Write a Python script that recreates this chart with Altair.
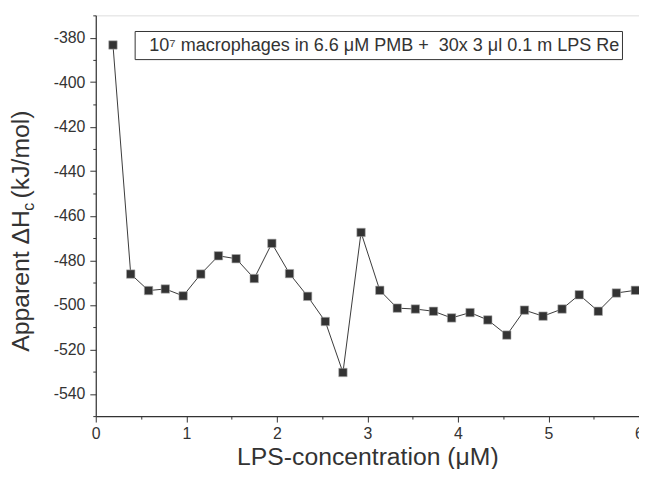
import altair as alt
import pandas as pd

# LPS concentration (µM) and apparent enthalpy (kJ/mol)
conc = [0.19, 0.386, 0.583, 0.768, 0.965, 1.16, 1.355, 1.55, 1.75, 1.945,
        2.14, 2.34, 2.535, 2.73, 2.93, 3.137, 3.33, 3.53, 3.73, 3.93,
        4.134, 4.33, 4.54, 4.735, 4.94, 5.15, 5.34, 5.55, 5.75, 5.96]
dH = [-383.3, -486.2, -493.6, -492.9, -496.0, -486.2, -478.0, -479.3, -488.2, -472.4,
      -486.0, -496.2, -507.5, -530.4, -467.5, -493.5, -501.5, -501.9, -502.9, -505.9,
      -503.5, -506.8, -513.6, -502.4, -505.1, -501.9, -495.5, -502.9, -494.7, -493.5]

x_ticks = [0, 0.5, 1, 1.5, 2, 2.5, 3, 3.5, 4, 4.5, 5, 5.5, 6]
y_ticks = [-550, -540, -530, -520, -510, -500, -490, -480, -470, -460,
           -450, -440, -430, -420, -410, -400, -390, -380, -370]

legend_text = ["10\u2077 macrophages in 6.6 \u03bcM PMB +\u00a0 30x 3 \u03bcl 0.1 m LPS Re"]
x_title = "LPS-concentration (\u03bcM)"
y_title_main = ["Apparent \u0394H"]
y_title_sub = ["c"]
y_title_unit = ["(kJ/mol)"]

FONT = "Liberation Sans"
INK = "#333333"
W, H = 549, 405

df = pd.DataFrame({"conc": conc, "dH": dH})

xscale = alt.Scale(domain=[0, 6], nice=False, zero=False)
yscale = alt.Scale(domain=[-550, -370], nice=False, zero=False)

x_axis = alt.Axis(
    values=x_ticks,
    labelExpr="datum.value % 1 === 0 ? '' + datum.value : ''",
    tickSize={"condition": {"test": "datum.value % 1 === 0", "value": 6}, "value": 3},
    title=x_title, titleFontSize=25, titleFont=FONT, titleFontWeight="normal",
    titleColor=INK, titlePadding=3,
    labelFontSize=16, labelFont=FONT, labelColor=INK, labelPadding=4,
    domainColor=INK, tickColor=INK, domainWidth=1.2, tickWidth=1, grid=False,
    labelFlush=False, labelOverlap=False,
)
y_axis = alt.Axis(
    values=y_ticks,
    labelExpr="datum.value % 20 === 0 ? '' + datum.value : ''",
    tickSize={"condition": {"test": "datum.value % 20 === 0", "value": 6}, "value": 3},
    title=None,
    labelFontSize=16, labelFont=FONT, labelColor=INK, labelPadding=5,
    domainColor=INK, tickColor=INK, domainWidth=1.2, tickWidth=1, grid=False,
    labelFlush=False, labelOverlap=False,
)

base = alt.Chart(df).encode(
    x=alt.X("conc:Q", scale=xscale, axis=x_axis),
    y=alt.Y("dH:Q", scale=yscale, axis=y_axis),
)
line = base.mark_line(color="#3a3a3a", strokeWidth=1)
pts = base.mark_square(size=72, color=INK, opacity=1, stroke="#aaaaaa", strokeWidth=0.6)

box = alt.Chart(pd.DataFrame({"t": legend_text})).mark_rect(
    fill="white", stroke=INK, strokeWidth=1
).encode(x=alt.value(39.8), x2=alt.value(532.3), y=alt.value(16.3), y2=alt.value(44.7))
box_text = alt.Chart(pd.DataFrame({"t": legend_text})).mark_text(
    align="left", baseline="middle", font=FONT, fontSize=18.2, color=INK
).encode(x=alt.value(54), y=alt.value(31), text="t:N")

TX = -75
t_main = alt.Chart(pd.DataFrame({"t": y_title_main})).mark_text(
    align="left", baseline="middle", angle=270, font=FONT, fontSize=25, color=INK
).encode(x=alt.value(TX), y=alt.value(340), text="t:N")
t_sub = alt.Chart(pd.DataFrame({"t": y_title_sub})).mark_text(
    align="left", baseline="middle", angle=270, font=FONT, fontSize=16, color=INK
).encode(x=alt.value(TX + 8), y=alt.value(197.5), text="t:N")
t_unit = alt.Chart(pd.DataFrame({"t": y_title_unit})).mark_text(
    align="left", baseline="middle", angle=270, font=FONT, fontSize=25, color=INK
).encode(x=alt.value(TX), y=alt.value(185), text="t:N")

chart = alt.layer(line, pts, box, box_text, t_main, t_sub, t_unit).properties(
    width=W, height=H,
    autosize=alt.AutoSizeParams(type="none"),
    padding={"left": 88.7, "top": 5, "right": 0, "bottom": 51},
).configure_view(stroke=INK, strokeWidth=1.2).configure(background="white")

chart.save("out.html", embed_options={"renderer": "svg", "actions": False})
